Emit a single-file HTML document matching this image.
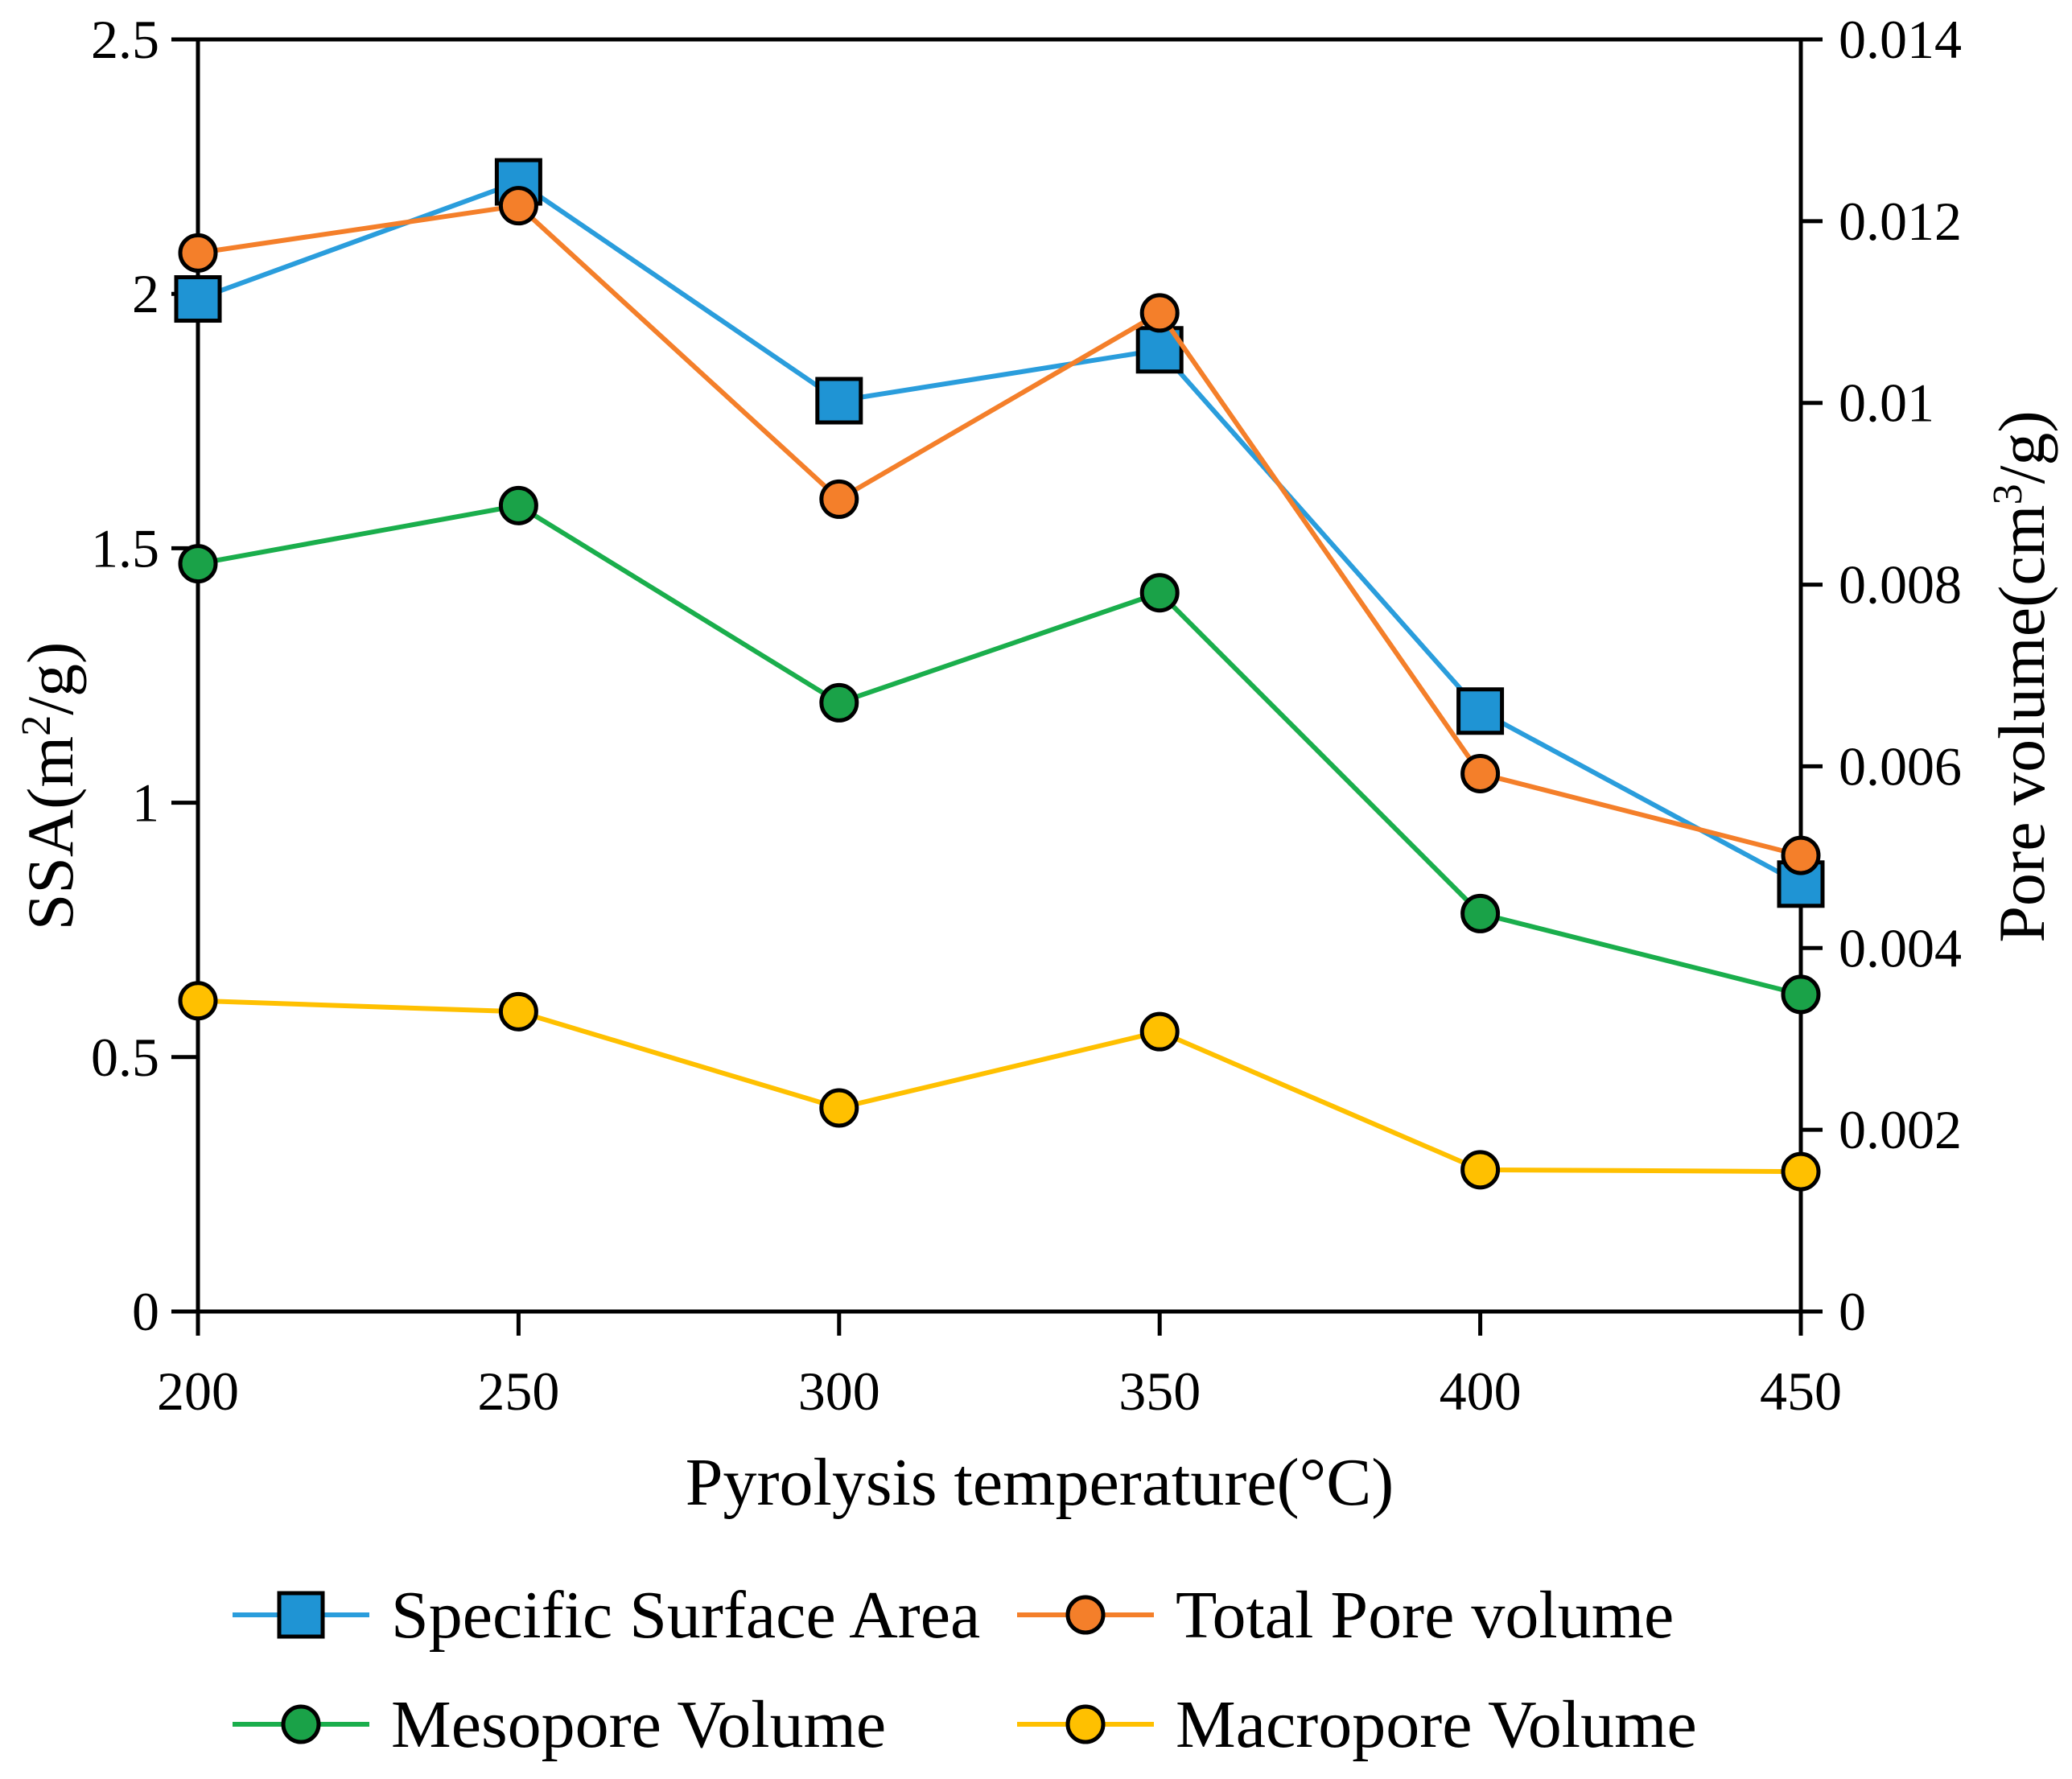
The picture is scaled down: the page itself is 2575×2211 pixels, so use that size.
<!DOCTYPE html>
<html><head><meta charset="utf-8"><style>
html,body{margin:0;padding:0;background:#fff;}
svg{display:block;font-family:"Liberation Serif",serif;}
</style></head><body>
<svg id="chart" width="2575" height="2211" viewBox="0 0 2575 2211" xmlns="http://www.w3.org/2000/svg">
<g id="axes"></g>
<g id="series"></g>
<g id="legend"></g>
</svg>
<script>
const categories = [200, 250, 300, 350, 400, 450];
const ssaValues = [1.99, 2.22, 1.79, 1.89, 1.18, 0.84];
const totalPoreValues = [0.01165, 0.01217, 0.00894, 0.01099, 0.00592, 0.00502];
const mesoValues = [0.00823, 0.00887, 0.0067, 0.00791, 0.00438, 0.00349];
const macroValues = [0.00342, 0.0033, 0.00224, 0.00308, 0.00156, 0.00154];
const leftTicks = [0, 0.5, 1, 1.5, 2, 2.5];
const leftTickLabels = ["0", "0.5", "1", "1.5", "2", "2.5"];
const rightTicks = [0, 0.002, 0.004, 0.006, 0.008, 0.01, 0.012, 0.014];
const rightTickLabels = ["0", "0.002", "0.004", "0.006", "0.008", "0.01", "0.012", "0.014"];

const NS = "http://www.w3.org/2000/svg";
const L = 246, R = 2238, B = 1630, T = 49;
const xS = v => L + (v - 200) / 250 * (R - L);
const yL = v => B - v / 2.5 * (B - T);
const yR = v => B - v / 0.014 * (B - T);
function mk(tag, attrs, parent) { const e = document.createElementNS(NS, tag); for (const k in attrs) e.setAttribute(k, attrs[k]); parent.appendChild(e); return e; }

const ax = document.getElementById('axes');
let e;
e = mk('rect', {x: L, y: T, width: R - L, height: B - T, fill: 'none', stroke: '#000', 'stroke-width': 5}, ax);


leftTicks.forEach((v, i) => {
  const y = yL(v);
  e = mk('line', {x1: 213, x2: L, y1: y, y2: y, stroke: '#000', 'stroke-width': 5}, ax);
  
  
  e = mk('text', {x: 198, y: y + 23, 'text-anchor': 'end', 'font-size': 68}, ax);
  e.textContent = leftTickLabels[i];
  
  
});
rightTicks.forEach((v, i) => {
  const y = yR(v);
  e = mk('line', {x1: R, x2: 2265, y1: y, y2: y, stroke: '#000', 'stroke-width': 5}, ax);
  
  
  e = mk('text', {x: 2285, y: y + 23, 'text-anchor': 'start', 'font-size': 68}, ax);
  e.textContent = rightTickLabels[i];
  
  
});
categories.forEach(c => {
  const x = xS(c);
  e = mk('line', {x1: x, x2: x, y1: B, y2: 1660, stroke: '#000', 'stroke-width': 5}, ax);
  
  
  e = mk('text', {x: x, y: 1752, 'text-anchor': 'middle', 'font-size': 68}, ax);
  e.textContent = String(c);
  
  
});
e = mk('text', {x: 1292, y: 1870, 'text-anchor': 'middle', 'font-size': 84}, ax);
e.textContent = 'Pyrolysis temperature(°C)';


e = mk('text', {x: 0, y: 0, 'text-anchor': 'middle', 'font-size': 82, transform: 'translate(90,977) rotate(-90)'}, ax);
e.innerHTML = 'SSA(m<tspan font-size="52" dy="-28">2</tspan><tspan dy="28">/g)</tspan>';


e = mk('text', {x: 0, y: 0, 'text-anchor': 'middle', 'font-size': 82, transform: 'translate(2540,841) rotate(-90)'}, ax);
e.innerHTML = 'Pore volume(cm<tspan font-size="52" dy="-28">3</tspan><tspan dy="28">/g)</tspan>';



const sg = document.getElementById('series');
function drawSeries(vals, scale, color, fill, shape, name) {
  const g = mk('g', {}, sg);
  
  
  const pts = vals.map((v, i) => xS(categories[i]) + ',' + scale(v)).join(' ');
  e = mk('polyline', {points: pts, fill: 'none', stroke: color, 'stroke-width': 6}, g);
  
  
  vals.forEach((v, i) => {
    const x = xS(categories[i]), y = scale(v);
    if (shape === 'square') e = mk('rect', {x: x - 27, y: y - 27, width: 54, height: 54, fill: fill, stroke: '#000', 'stroke-width': 5}, g);
    else e = mk('circle', {cx: x, cy: y, r: 22, fill: fill, stroke: '#000', 'stroke-width': 5}, g);
    
    
  });
}
drawSeries(macroValues, yR, '#ffc000', '#ffc000', 'circle', 'macropore-volume');
drawSeries(mesoValues, yR, '#1aae4c', '#1aa248', 'circle', 'mesopore-volume');
drawSeries(ssaValues, yL, '#2a9ddc', '#1f94d4', 'square', 'specific-surface-area');
drawSeries(totalPoreValues, yR, '#f47f2a', '#f47f2a', 'circle', 'total-pore-volume');

const lg = document.getElementById('legend');
const entries = [
  ['Specific Surface Area', '#2a9ddc', '#1f94d4', 'square', 289, 2007],
  ['Total Pore volume', '#f47f2a', '#f47f2a', 'circle', 1264, 2007],
  ['Mesopore Volume', '#1aae4c', '#1aa248', 'circle', 289, 2143],
  ['Macropore Volume', '#ffc000', '#ffc000', 'circle', 1264, 2143]
];
entries.forEach(en => {
  const [label, color, fill, shape, x0, y] = en;
  const g = mk('g', {}, lg);
  
  
  mk('line', {x1: x0, x2: x0 + 170, y1: y, y2: y, stroke: color, 'stroke-width': 6}, g);
  const cx = x0 + 85;
  if (shape === 'square') mk('rect', {x: cx - 27, y: y - 27, width: 54, height: 54, fill: fill, stroke: '#000', 'stroke-width': 5}, g);
  else mk('circle', {cx: cx, cy: y, r: 22, fill: fill, stroke: '#000', 'stroke-width': 5}, g);
  const t = mk('text', {x: x0 + 197, y: y + 28, 'font-size': 84}, g);
  t.textContent = label;
});
</script>
</body></html>
